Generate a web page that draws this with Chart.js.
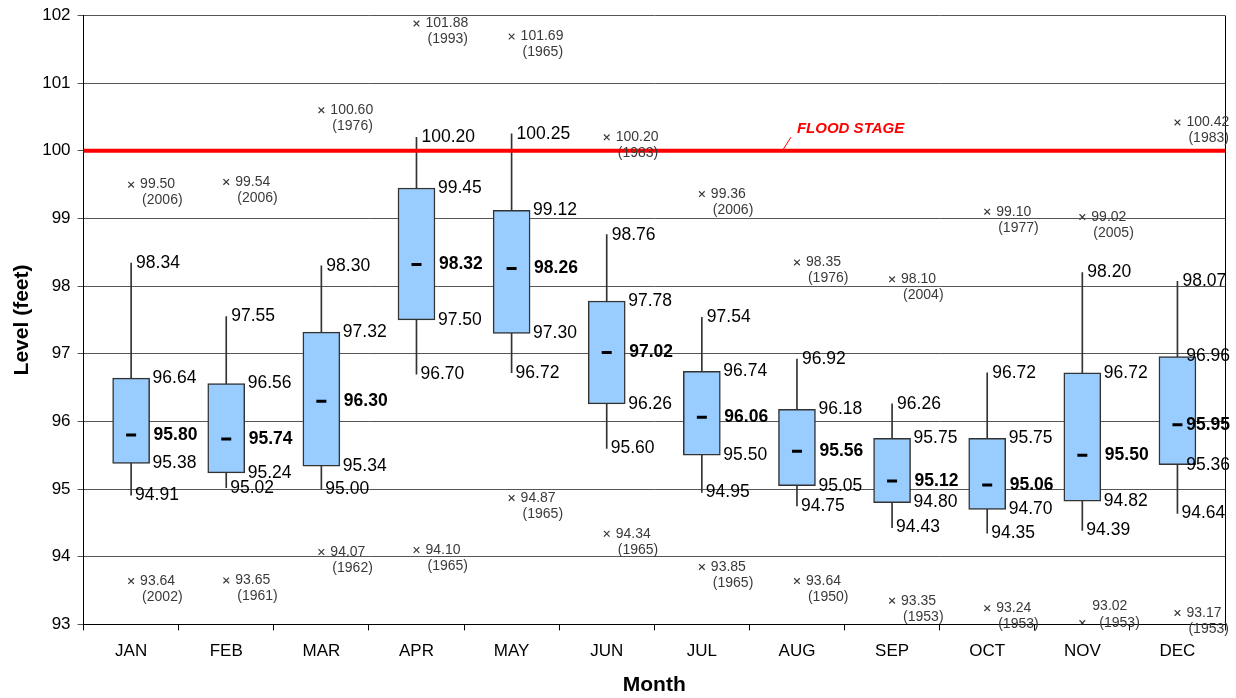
<!DOCTYPE html>
<html>
<head>
<meta charset="utf-8">
<script src="https://cdn.jsdelivr.net/npm/chart.js@4/dist/chart.umd.min.js"></script>
<style>
html, body { margin: 0; padding: 0; background: #fff; }
#wrap { width: 1236px; height: 698px; }
</style>
</head>
<body>
<div id="wrap"><canvas id="chart_level"></canvas></div>
<script>
const months = ['JAN', 'FEB', 'MAR', 'APR', 'MAY', 'JUN', 'JUL', 'AUG', 'SEP', 'OCT', 'NOV', 'DEC'];
const maxLevel = [98.34, 97.55, 98.30, 100.20, 100.25, 98.76, 97.54, 96.92, 96.26, 96.72, 98.20, 98.07];
const q3Level = [96.64, 96.56, 97.32, 99.45, 99.12, 97.78, 96.74, 96.18, 95.75, 95.75, 96.72, 96.96];
const medianLevel = [95.80, 95.74, 96.30, 98.32, 98.26, 97.02, 96.06, 95.56, 95.12, 95.06, 95.50, 95.95];
const q1Level = [95.38, 95.24, 95.34, 97.50, 97.30, 96.26, 95.50, 95.05, 94.80, 94.70, 94.82, 95.36];
const minLevel = [94.91, 95.02, 95.00, 96.70, 96.72, 95.60, 94.95, 94.75, 94.43, 94.35, 94.39, 94.64];
const highRecord = [99.50, 99.54, 100.60, 101.88, 101.69, 100.20, 99.36, 98.35, 98.10, 99.10, 99.02, 100.42];
const highYear = [2006, 2006, 1976, 1993, 1965, 1983, 2006, 1976, 2004, 1977, 2005, 1983];
const lowRecord = [93.64, 93.65, 94.07, 94.10, 94.87, 94.34, 93.85, 93.64, 93.35, 93.24, 93.02, 93.17];
const lowYear = [2002, 1961, 1962, 1965, 1965, 1965, 1965, 1950, 1953, 1953, 1953, 1953];
const floodStage = 100;
const yMin = 93;
const yMax = 102;

const FONT = '"Liberation Sans", Arial, sans-serif';
Chart.defaults.font.family = FONT;

// text next to boxes, flood stage line, record values
const boxLabels = {
    id: 'boxLabels',
    afterDatasetsDraw(chart) {
        const ctx = chart.ctx;
        const xs = chart.scales.x;
        const ys = chart.scales.y;
        const area = chart.chartArea;
        const W = chart.width;
        ctx.save();

        // right frame
        ctx.strokeStyle = '#000';
        ctx.lineWidth = 1;
        ctx.beginPath();
        ctx.moveTo(area.right + 0.5, area.top);
        ctx.lineTo(area.right + 0.5, area.bottom);
        ctx.stroke();

        // flood stage
        const fy = ys.getPixelForValue(floodStage);
        ctx.strokeStyle = '#ff0000';
        ctx.lineWidth = 4;
        ctx.beginPath();
        ctx.moveTo(area.left, fy);
        ctx.lineTo(area.right, fy);
        ctx.stroke();

        const fx = xs.getPixelForValue(7);
        const ly = ys.getPixelForValue(floodStage + 0.32);
        ctx.lineWidth = 1;
        ctx.beginPath();
        ctx.moveTo(fx - 14, fy - 1);
        ctx.lineTo(fx - 6, ly + 8);
        ctx.stroke();
        ctx.fillStyle = '#ff0000';
        ctx.font = 'italic bold 15px ' + FONT;
        ctx.textAlign = 'left';
        ctx.textBaseline = 'middle';
        ctx.fillText('FLOOD STAGE', fx, ly);

        const boxMeta = chart.getDatasetMeta(1);
        const put = (txt, px, val, bold) => {
            ctx.font = (bold ? 'bold ' : '') + '17.5px ' + FONT;
            const w = ctx.measureText(txt).width;
            ctx.fillText(txt, Math.min(px, W - w - 6), ys.getPixelForValue(val));
        };
        const rec = (val, yr, i) => {
            const cx = xs.getPixelForValue(i);
            const py = ys.getPixelForValue(val);
            ctx.font = '14px ' + FONT;
            if (py + 16 > area.bottom + 8) {
                ctx.fillText(val.toFixed(2), cx + 10, py - 17);
                ctx.fillText('(' + yr + ')', cx + 17, py);
            } else {
                ctx.fillText(val.toFixed(2), cx + 9, py);
                ctx.fillText('(' + yr + ')', cx + 11, py + 16);
            }
        };

        months.forEach((m, i) => {
            const cx = xs.getPixelForValue(i);
            const bar = boxMeta.data[i];
            const right = bar.x + bar.width / 2;
            ctx.fillStyle = '#000';
            put(maxLevel[i].toFixed(2), cx + 5, maxLevel[i], false);
            put(q3Level[i].toFixed(2), right + 3, q3Level[i], false);
            put(medianLevel[i].toFixed(2), right + 4, medianLevel[i], true);
            put(q1Level[i].toFixed(2), right + 3, q1Level[i], false);
            put(minLevel[i].toFixed(2), cx + 4, minLevel[i], false);
            ctx.fillStyle = '#3a3a3a';
            rec(highRecord[i], highYear[i], i);
            rec(lowRecord[i], lowYear[i], i);
        });
        ctx.restore();
    }
};

const ctxLevel = document.getElementById('chart_level');
const levelChart = new Chart(ctxLevel, {
    type: 'bar',
    data: {
        labels: months,
        datasets: [{
            type: 'line',
            label: 'Median',
            data: medianLevel,
            showLine: false,
            pointStyle: 'line',
            pointRadius: 5,
            pointBorderWidth: 3,
            pointBorderColor: '#000',
            order: 0
        }, {
            label: 'Box',
            data: months.map((m, i) => [q1Level[i], q3Level[i]]),
            backgroundColor: '#99ccff',
            borderColor: '#333',
            borderWidth: 1.5,
            borderSkipped: false,
            barThickness: 37,
            grouped: false,
            order: 1
        }, {
            label: 'Range',
            data: months.map((m, i) => [minLevel[i], maxLevel[i]]),
            backgroundColor: '#333',
            borderWidth: 0,
            barThickness: 1,
            grouped: false,
            order: 2
        }, {
            type: 'line',
            label: 'Record high',
            data: highRecord,
            showLine: false,
            pointStyle: 'crossRot',
            pointRadius: 4,
            pointBorderWidth: 1.2,
            pointBorderColor: '#3a3a3a',
            order: 3
        }, {
            type: 'line',
            label: 'Record low',
            data: lowRecord,
            showLine: false,
            pointStyle: 'crossRot',
            pointRadius: 4,
            pointBorderWidth: 1.2,
            pointBorderColor: '#3a3a3a',
            order: 3
        }]
    },
    options: {
        responsive: true,
        maintainAspectRatio: false,
        animation: false,
        events: [],
        layout: { padding: { left: 4, right: 11, top: 4, bottom: 0 } },
        plugins: {
            legend: { display: false },
            tooltip: { enabled: false }
        },
        scales: {
            x: {
                offset: true,
                grid: { drawOnChartArea: false, drawTicks: true, tickLength: 6, color: '#000', offset: true },
                border: { color: '#000', width: 1 },
                ticks: { color: '#000', font: { size: 17 }, padding: 11 },
                title: { display: true, text: 'Month', color: '#000', font: { size: 21, weight: 'bold' }, padding: { top: 0, bottom: 0 } }
            },
            y: {
                min: yMin,
                max: yMax,
                grid: { color: '#555', lineWidth: 1, tickLength: 6 },
                border: { color: '#000', width: 1 },
                ticks: { stepSize: 1, color: '#000', font: { size: 17, lineHeight: 1 }, padding: 7 },
                title: { display: true, text: 'Level (feet)', color: '#000', font: { size: 21, weight: 'bold' }, padding: { top: 6, bottom: 0 } }
            }
        }
    },
    plugins: [boxLabels]
});
</script>
</body>
</html>
